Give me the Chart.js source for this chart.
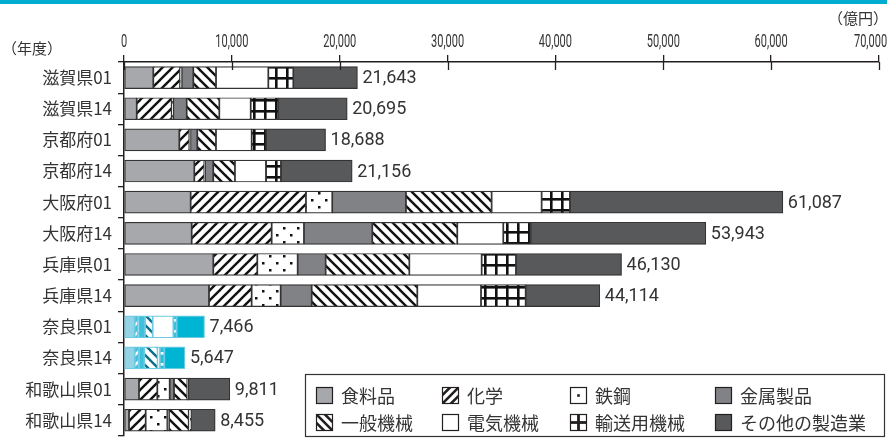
<!DOCTYPE html>
<html>
<head>
<meta charset="utf-8">
<script src="https://cdn.jsdelivr.net/npm/chart.js@4"></script>
<style>
html, body { margin: 0; padding: 0; background: #fff; overflow: hidden; }
#wrap { position: absolute; left: 0; top: 0; width: 893px; height: 452px; }
#band { position: absolute; left: 0; top: 0; width: 887px; height: 4px; background: #00acd0; }
</style>
</head>
<body>
<div id="wrap"><canvas id="chart"></canvas></div>
<div id="band"></div>
<script>
// categories (prefecture + year)
const categories = ['滋賀県01', '滋賀県14', '京都府01', '京都府14', '大阪府01', '大阪府14',
                    '兵庫県01', '兵庫県14', '奈良県01', '奈良県14', '和歌山県01', '和歌山県14'];
const seriesNames = ['食料品', '化学', '鉄鋼', '金属製品', '一般機械', '電気機械', '輸送用機械', 'その他の製造業'];

// values (億円)
const food      = [2717, 1177, 5130, 6520,  6180, 6275, 8280, 7880,  990,  990, 1390,  465];
const chem      = [2475, 3245,  927,  927, 10690, 7415, 4080, 3955,  310,  370, 1700, 1545];
const steel     = [ 160,  150,  100,   60,  2440, 2995, 3740, 2690,   30,   30, 1145, 2010];
const metal     = [1075, 1240,  640,  770,  6830, 6335, 2595, 2875,  620,  490,  400,  155];
const general   = [2104, 3025, 1730, 2010,  7945, 7880, 7760, 9795,  710, 1235, 1235, 1825];
const electric  = [4850, 2910, 3310, 2875,  4635, 4265, 6705, 5905, 1915,  215,   60,  120];
const transport = [2318, 2565, 1330, 1390,  2625, 2535, 3180, 4140,  310,  400,   40,   70];
const other     = [5944, 6383, 5521, 6604, 19742, 16243, 9790, 6874, 2581, 1917, 3841, 2265];
const totals    = [21643, 20695, 18688, 21156, 61087, 53943, 46130, 44114, 7466, 5647, 9811, 8455];
const xTicks    = [0, 10000, 20000, 30000, 40000, 50000, 60000, 70000];
const highlighted = ['奈良県01', '奈良県14'];

const ink = '#231f20';
const textColor = '#333333';
const kinds = ['solid', 'slash', 'dots', 'solid', 'back', 'solid', 'grid', 'solid'];

// pattern tiles
function makePattern(kind, fg, bg) {
    const t = document.createElement('canvas');
    const s = kind === 'grid' ? 11 : (kind === 'dots' ? 14 : 10);
    t.width = s; t.height = s;
    const g = t.getContext('2d');
    g.fillStyle = bg;
    g.fillRect(0, 0, s, s);
    g.strokeStyle = fg;
    g.fillStyle = fg;
    if (kind === 'slash' || kind === 'back') {
        g.lineWidth = 2.4;
        const segs = [[-5, 5, 5, -5], [0, 10, 10, 0], [5, 15, 15, 5]];
        segs.forEach(p => {
            g.beginPath();
            if (kind === 'slash') { g.moveTo(p[0], p[1]); g.lineTo(p[2], p[3]); }
            else { g.moveTo(s - p[0], p[1]); g.lineTo(s - p[2], p[3]); }
            g.stroke();
        });
    } else if (kind === 'dots') {
        g.fillRect(3, 3, 2.5, 2.5);
        g.fillRect(10, 10, 2.5, 2.5);
    } else if (kind === 'grid') {
        g.fillRect(0, 0, s, 2.6);
        g.fillRect(0, 0, 2.6, s);
    }
    return g.createPattern(t, 'repeat');
}

const normalFills = [
    '#a6a8ab',
    makePattern('slash', '#111', '#fff'),
    makePattern('dots', '#111', '#fff'),
    '#808285',
    makePattern('back', '#111', '#fff'),
    '#ffffff',
    makePattern('grid', '#111', '#fff'),
    '#58595b'
];
const naraFills = [
    '#93d3e6',
    makePattern('slash', '#ffffff', '#3fc0dc'),
    makePattern('dots', '#00a9cb', '#fff'),
    '#3fc0dc',
    makePattern('back', '#0a6f86', '#fff'),
    '#ffffff',
    makePattern('grid', '#ffffff', '#2fbad8'),
    '#00b5d4'
];

const seriesValues = [food, chem, steel, metal, general, electric, transport, other];

const datasets = seriesNames.map((name, k) => ({
    label: name,
    data: seriesValues[k],
    backgroundColor: categories.map(c => highlighted.includes(c) ? naraFills[k] : normalFills[k]),
    borderColor: categories.map(c => highlighted.includes(c) ? '#6ccbe2' : '#333'),
    borderWidth: 1.2,
    borderSkipped: false,
    barThickness: 22
}));

// legend swatch drawn at (x, y) with size sz
function drawSwatch(ctx, k, x, y, sz) {
    ctx.save();
    ctx.fillStyle = '#fff';
    ctx.fillRect(x, y, sz, sz);
    ctx.fillStyle = ink;
    const kind = kinds[k];
    if (kind === 'solid') {
        ctx.fillStyle = normalFills[k];
        ctx.fillRect(x, y, sz, sz);
    } else if (kind === 'slash' || kind === 'back') {
        ctx.beginPath();
        ctx.rect(x, y, sz, sz);
        ctx.clip();
        ctx.strokeStyle = ink;
        ctx.lineWidth = 2.6;
        [-sz / 2, 0, sz / 2].forEach(o => {
            ctx.beginPath();
            if (kind === 'slash') { ctx.moveTo(x + o, y + sz); ctx.lineTo(x + o + sz, y); }
            else { ctx.moveTo(x + o, y); ctx.lineTo(x + o + sz, y + sz); }
            ctx.stroke();
        });
    } else if (kind === 'dots') {
        ctx.fillRect(x + sz / 2 - 1.3, y + sz / 2 - 1.3, 2.6, 2.6);
    } else if (kind === 'grid') {
        ctx.fillRect(x + sz / 2 - 1.4, y, 2.8, sz);
        ctx.fillRect(x, y + sz / 2 - 1.4, sz, 2.8);
    }
    ctx.restore();
    ctx.strokeStyle = ink;
    ctx.lineWidth = 1.2;
    ctx.strokeRect(x + 0.5, y + 0.5, sz - 1, sz - 1);
}

// totals at end of bars, x tick labels, tick marks below axis, legend box
const extras = {
    id: 'extras',
    afterDraw(chart) {
        const ctx = chart.ctx;
        const xs = chart.scales.x;
        const area = chart.chartArea;
        ctx.save();

        // tick marks crossing the axis line
        ctx.strokeStyle = ink;
        ctx.lineWidth = 1.3;
        xTicks.forEach(v => {
            const px = Math.round(xs.getPixelForValue(v)) + 0.5;
            ctx.beginPath();
            ctx.moveTo(px, area.top);
            ctx.lineTo(px, area.top + 8);
            ctx.stroke();
        });

        // x tick labels (condensed)
        ctx.fillStyle = textColor;
        ctx.font = "19px Roboto, sans-serif";
        ctx.textBaseline = 'alphabetic';
        xTicks.forEach((v, i) => {
            const label = v.toLocaleString('en-US');
            const px = xs.getPixelForValue(v);
            ctx.save();
            ctx.translate(px, 47);
            ctx.scale(0.58, 1);
            const w = ctx.measureText(label).width;
            let off = -w / 2;
            if (i === xTicks.length - 1) off = -w + 14;
            ctx.fillText(label, off, 0);
            ctx.restore();
        });

        // unit labels
        ctx.font = "15px 'Noto Sans CJK JP', sans-serif";
        ctx.textBaseline = 'middle';
        ctx.textAlign = 'left';
        ctx.fillText('（年度）', 2, 48);
        ctx.textAlign = 'right';
        ctx.fillText('（億円）', 888, 18);

        // totals
        const meta = chart.getDatasetMeta(chart.data.datasets.length - 1);
        ctx.font = "18px Roboto, sans-serif";
        ctx.textAlign = 'left';
        ctx.textBaseline = 'middle';
        meta.data.forEach((bar, i) => {
            ctx.fillText(totals[i].toLocaleString('en-US'), bar.x + 5, bar.y + 1);
        });

        // legend
        const box = { x: 305.5, y: 374.5, w: 579, h: 62 };
        ctx.fillStyle = '#fff';
        ctx.fillRect(box.x, box.y, box.w, box.h);
        ctx.strokeStyle = '#333';
        ctx.lineWidth = 1.2;
        ctx.strokeRect(box.x, box.y, box.w, box.h);
        const colX = [316, 442, 570, 715];
        const rowY = [395, 422];
        ctx.font = "18px 'Noto Sans CJK JP', sans-serif";
        seriesNames.forEach((name, k) => {
            const x = colX[k % 4], y = rowY[Math.floor(k / 4)];
            drawSwatch(ctx, k, x, y - 8, 17);
            ctx.fillStyle = textColor;
            ctx.textAlign = 'left';
            ctx.textBaseline = 'middle';
            ctx.fillText(name, x + 25, y + 1);
        });
        ctx.restore();
    }
};

new Chart(document.getElementById('chart'), {
    type: 'bar',
    data: { labels: categories, datasets: datasets },
    plugins: [extras],
    options: {
        indexAxis: 'y',
        responsive: true,
        maintainAspectRatio: false,
        animation: false,
        layout: { padding: { left: 0, right: 14, top: 0, bottom: 0 } },
        plugins: {
            legend: { display: false },
            tooltip: { enabled: false }
        },
        scales: {
            x: {
                position: 'top',
                stacked: true,
                min: 0,
                max: 70000,
                ticks: { stepSize: 10000, display: false },
                grid: { drawOnChartArea: false, drawTicks: true, tickLength: 7, color: ink, lineWidth: 1.3 },
                border: { color: ink, width: 1.5 },
                afterFit(s) { s.height = 62; s.paddingLeft = 0; s.paddingRight = 0; }
            },
            y: {
                stacked: true,
                ticks: {
                    color: textColor,
                    padding: 6,
                    font: { family: "'Noto Sans CJK JP', sans-serif", size: 17 }
                },
                grid: { offset: true, drawOnChartArea: false, tickLength: 6, color: ink, lineWidth: 1.3 },
                border: { color: ink, width: 1.5 },
                afterFit(s) { s.width = 124; }
            }
        }
    }
});
</script>
</body>
</html>
